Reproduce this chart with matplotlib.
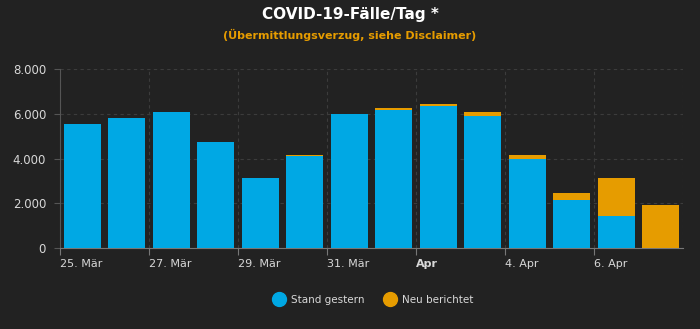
import numpy as np
import matplotlib.pyplot as plt
from matplotlib.lines import Line2D

# Daily cases: already reported yesterday vs. newly reported
days = ["25. Mär", "26. Mär", "27. Mär", "28. Mär", "29. Mär", "30. Mär", "31. Mär",
        "1. Apr", "2. Apr", "3. Apr", "4. Apr", "5. Apr", "6. Apr", "7. Apr"]
stand_gestern = [5555, 5800, 6070, 4735, 3110, 4135, 5985,
                 6170, 6365, 5905, 3985, 2155, 1415, 0]
neu_berichtet = [10, 10, 10, 10, 10, 10, 10,
                 75, 90, 175, 180, 300, 1705, 1905]

tick_pos = [0, 2, 4, 6, 8, 10, 12]
tick_labels = ["25. Mär", "27. Mär", "29. Mär", "31. Mär", "Apr", "4. Apr", "6. Apr"]

bg = "#222222"
blue = "#00a8e4"
orange = "#e69c00"
grid_col = "#3c3c3c"
text_col = "#d8d8d8"

fig = plt.figure(figsize=(7, 3.29), dpi=100, facecolor=bg)
ax = fig.add_axes([0.0857, 0.246, 0.89, 0.544], facecolor=bg)

x = np.arange(len(days)) + 0.5
ax.bar(x, stand_gestern, width=0.83, color=blue, zorder=3)
ax.bar(x, neu_berichtet, width=0.83, bottom=stand_gestern, color=orange, zorder=3)

ax.set_xlim(0, len(days))
ax.set_ylim(0, 8000)
ax.set_yticks([0, 2000, 4000, 6000, 8000])
ax.set_yticklabels(["0", "2.000", "4.000", "6.000", "8.000"])
ax.set_xticks(tick_pos)
ax.set_xticklabels(tick_labels, ha="left")
for lbl in ax.get_xticklabels():
    if lbl.get_text() == "Apr":
        lbl.set_fontweight("bold")
        lbl.set_color("white")

ax.grid(True, color=grid_col, linestyle=(0, (3, 3)), linewidth=0.8, zorder=0)
ax.axvline(len(days), color=grid_col, linestyle=(0, (3, 3)), linewidth=0.8, zorder=0)
for side in ["top", "right"]:
    ax.spines[side].set_visible(False)
ax.spines["left"].set_color("#555555")
ax.spines["bottom"].set_color("#777777")
ax.tick_params(axis="y", colors=text_col, labelsize=8.5, length=4, color="#555555", pad=6)
ax.tick_params(axis="x", colors=text_col, labelsize=8, length=5, color="#777777", pad=3)

fig.text(0.5, 0.955, "COVID-19-Fälle/Tag *", color="white", fontsize=11,
         fontweight="bold", ha="center", va="center")
fig.text(0.5, 0.893, "(Übermittlungsverzug, siehe Disclaimer)", color=orange,
         fontsize=8, fontweight="semibold", ha="center", va="center")

handles = [Line2D([], [], marker="o", linestyle="", markersize=10, color=blue),
           Line2D([], [], marker="o", linestyle="", markersize=10, color=orange)]
fig.legend(handles, ["Stand gestern", "Neu berichtet"], loc="center",
           bbox_to_anchor=(0.53, 0.088), ncol=2, frameon=False, fontsize=7.5,
           labelcolor=text_col, handletextpad=0.1, columnspacing=1.5)

fig.savefig("out.png", dpi=100, facecolor=bg)
